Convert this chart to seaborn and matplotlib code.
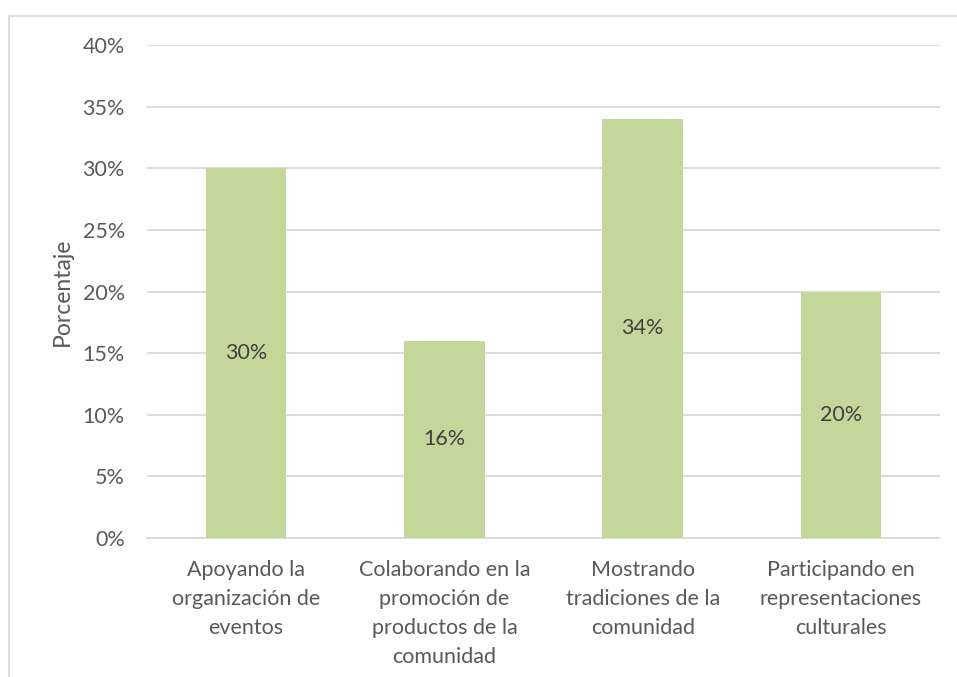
import matplotlib
matplotlib.use("Agg")
import matplotlib.pyplot as plt
import matplotlib.patches as patches
from matplotlib.ticker import PercentFormatter
import pandas as pd
import seaborn as sns

categorias = [
    "Apoyando la\norganización de\neventos",
    "Colaborando en la\npromoción de\nproductos de la\ncomunidad",
    "Mostrando\ntradiciones de la\ncomunidad",
    "Participando en\nrepresentaciones\nculturales",
]
porcentajes = [0.30, 0.16, 0.34, 0.20]
y_ticks = [0, 0.05, 0.10, 0.15, 0.20, 0.25, 0.30, 0.35, 0.40]

sns.set_style("white")
plt.rcParams["font.family"] = ["Lato", "DejaVu Sans"]

df = pd.DataFrame({"categoria": categorias, "porcentaje": porcentajes})

fig = plt.figure(figsize=(9.57, 6.77), dpi=100)
ax = fig.add_axes([147 / 957, 1 - 538 / 677, (940 - 147) / 957, (538 - 45) / 677])

sns.barplot(data=df, x="categoria", y="porcentaje", color="#C4D79B",
            saturation=1, width=0.405, linewidth=0, ax=ax, zorder=3)

for i, v in enumerate(porcentajes):
    ax.text(i, v / 2, f"{v:.0%}", ha="center", va="center",
            fontsize=15.5, color="#404040", zorder=4)

ax.set_ylim(0, 0.40)
ax.set_xlim(-0.5, len(categorias) - 0.5)
ax.set_yticks(y_ticks)
ax.yaxis.set_major_formatter(PercentFormatter(1.0, decimals=0))
ax.set_xticks(range(len(categorias)))
ax.set_xticklabels(categorias, linespacing=1.55, va="top")
ax.grid(True, axis="y", color="#D9D9D9", linewidth=1.3, zorder=0)
ax.set_axisbelow(True)
for s in ["top", "right", "left"]:
    ax.spines[s].set_visible(False)
ax.spines["bottom"].set_color("#D9D9D9")
ax.spines["bottom"].set_linewidth(1.3)
ax.tick_params(axis="both", length=0, labelsize=15.5, labelcolor="#595959")
ax.tick_params(axis="y", pad=16)
ax.tick_params(axis="x", pad=16)
ax.set_xlabel("")
ax.set_ylabel("Porcentaje", fontsize=16.5, color="#595959", labelpad=7)

# borde del área del gráfico
fig.patches.append(patches.Rectangle((9 / 957, -0.05), 1.1, 1.05 - 16 / 677,
                                     transform=fig.transFigure, fill=False,
                                     edgecolor="#D9D9D9", linewidth=1.3))

fig.savefig("out.png", dpi=100)
